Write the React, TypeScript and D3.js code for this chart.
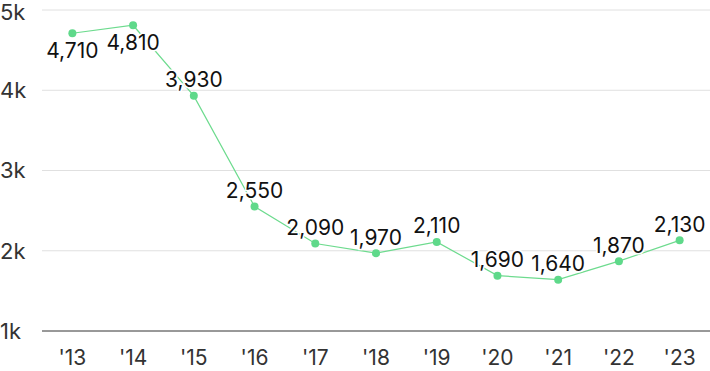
import React from "react";
import * as d3 from "d3";

const years = ["'13", "'14", "'15", "'16", "'17", "'18", "'19", "'20", "'21", "'22", "'23"];
const values = [4710, 4810, 3930, 2550, 2090, 1970, 2110, 1690, 1640, 1870, 2130];
const yTicks = [1000, 2000, 3000, 4000, 5000];

const W = 710, H = 371;
const margin = { left: 42, right: 0, top: 10, bottom: 40 };

export default function App() {
  const x = d3.scalePoint<string>().domain(years).range([margin.left, W - margin.right]).padding(0.5);
  const y = d3.scaleLinear().domain([1000, 5000]).range([H - margin.bottom, margin.top]);
  const line = d3.line<number>().x((_, i) => x(years[i])!).y(d => y(d));
  const fmt = d3.format(",");
  const font = "Inter, Roboto, sans-serif";
  return (
    <svg width={W} height={H} style={{ position: "absolute", left: 0, top: 0 }}>
      {yTicks.map(t => (
        <g key={t}>
          <line x1={margin.left} x2={W} y1={y(t)} y2={y(t)} stroke={t === 1000 ? "#333" : "#e0e0e0"} strokeWidth={1} />
          <text x={0} y={Math.max(y(t), 12)} dy="0.36em" fontFamily={font} fontSize={22} fill="#333">{t / 1000 + "k"}</text>
        </g>
      ))}
      {years.map(yr => (
        <text key={yr} x={x(yr)} y={357} dy="0.36em" textAnchor="middle" fontFamily={font} fontSize={21} fill="#333">{yr}</text>
      ))}
      <path d={line(values)!} fill="none" stroke="#6ddb8e" strokeWidth={1.2} />
      {values.map((v, i) => (
        <circle key={i} cx={x(years[i])} cy={y(v)} r={4} fill="#5fd98a" />
      ))}
      {values.map((v, i) => {
        const below = i < 2;
        return (
          <text key={"l" + i} x={x(years[i])!} y={y(v) + (below ? 17 : -16)} dy="0.36em" textAnchor="middle"
            fontFamily={font} fontSize={21} fill="#111" stroke="#fff" strokeWidth={3} paintOrder="stroke">{fmt(v)}</text>
        );
      })}
    </svg>
  );
}
